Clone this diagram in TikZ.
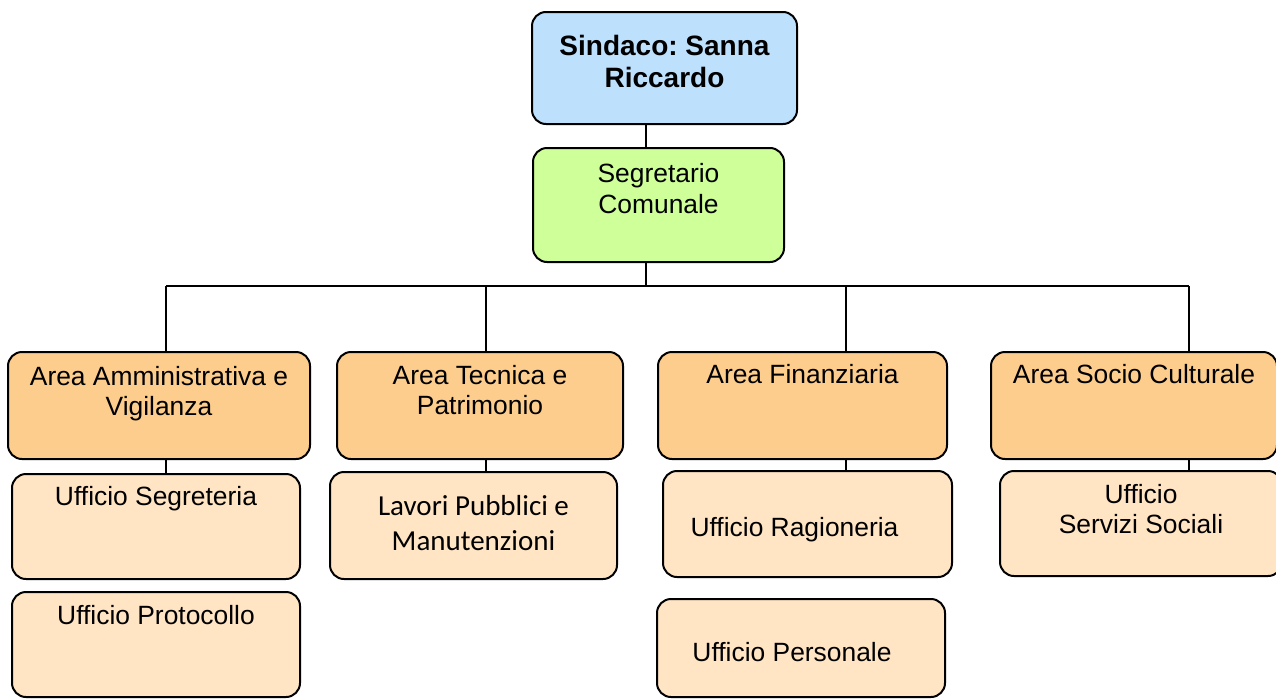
\documentclass[tikz,border=0pt]{standalone}
\usepackage{fontspec}
\setmainfont{Liberation Sans}
\newfontfamily\carlito{Carlito}
\usetikzlibrary{positioning}
\frenchspacing

\definecolor{sindblue}{RGB}{189,224,253}
\definecolor{segrgreen}{RGB}{206,255,153}
\definecolor{areaorange}{RGB}{252,205,140}
\definecolor{uffpeach}{RGB}{255,229,196}

\begin{document}
\begin{tikzpicture}[x=1pt,y=-1pt,line width=2pt,
        box/.style={draw,rounded corners=14pt,inner sep=0pt},
        sindbox/.style={box,fill=sindblue},
        segrbox/.style={box,fill=segrgreen},
        areabox/.style={box,fill=areaorange,minimum height=107pt},
        uffbox/.style={box,fill=uffpeach},
        lbl/.style={anchor=base,align=center,inner sep=0pt,
            font=\fontsize{26.4}{30.5}\selectfont}]

  \useasboundingbox (0,0) rectangle (1276,699);

  % vertici
  \node[sindbox,minimum width=265pt,minimum height=112pt] (sind) at (664.5,68) {};
  \node[segrbox,minimum width=251pt,minimum height=114pt] (segr) at (658.5,205) {};

  % aree
  \node[areabox,minimum width=302pt] (amm) at (159,405.5) {};
  \node[areabox,minimum width=286pt] (tec) at (480,405.5) {};
  \node[areabox,minimum width=289pt] (fin) at (802.5,405.5) {};
  \node[areabox,minimum width=286pt] (soc) at (1134,405.5) {};

  % uffici
  \node[uffbox,minimum width=288pt,minimum height=105pt] (uffseg) at (156,526.5) {};
  \node[uffbox,minimum width=288pt,minimum height=105pt] (uffprot) at (156,644.5) {};
  \node[uffbox,minimum width=287pt,minimum height=107pt] (lavori) at (473.5,525.5) {};
  \node[uffbox,minimum width=289pt,minimum height=106pt] (ragion) at (807.5,524) {};
  \node[uffbox,minimum width=288pt,minimum height=98pt] (pers) at (801,648) {};
  \node[uffbox,minimum width=282pt,minimum height=105pt] (servsoc) at (1141,523.5) {};

  % testi (base = ultima riga)
  \node[lbl,font=\fontsize{28}{32}\selectfont\bfseries] (sindT)
    at ([yshift=-76pt]sind.north) {Sindaco: Sanna\\Riccardo};
  \node[lbl] (segrT) at ([yshift=-66pt]segr.north) {Segretario\\Comunale};
  \node[lbl] (ammT) at ([yshift=-64.5pt]amm.north) {Area Amministrativa e\\Vigilanza};
  \node[lbl] (tecT) at ([yshift=-63.5pt]tec.north) {Area Tecnica e\\Patrimonio};
  \node[lbl] (finT) at ([yshift=-32pt]fin.north) {Area Finanziaria};
  \node[lbl] (socT) at ([yshift=-32pt]soc.north) {Area Socio Culturale};
  \node[lbl] (uffsegT) at ([yshift=-32pt]uffseg.north) {Ufficio Segreteria};
  \node[lbl] (uffprotT) at ([yshift=-33pt]uffprot.north) {Ufficio Protocollo};
  \node[lbl,font=\carlito\fontsize{29}{35}\selectfont] (lavoriT)
    at ([yshift=-79pt]lavori.north) {Lavori Pubblici e\\Manutenzioni};
  \node[lbl] (ragionT) at ([xshift=-13pt,yshift=-66pt]ragion.north) {Ufficio Ragioneria};
  \node[lbl] (persT) at ([xshift=-9pt,yshift=-63pt]pers.north) {Ufficio Personale};
  \node[lbl] (servsocT) at ([yshift=-63.5pt]servsoc.north) {Ufficio\\Servizi Sociali};

  % collegamenti
  \coordinate (bus) at (646,286);
  \coordinate (d1) at (166,286);
  \coordinate (d2) at (486,286);
  \coordinate (d3) at (846,286);
  \coordinate (d4) at (1189,286);

  \draw (sind.south -| bus) -- (segr.north -| bus);
  \draw (segr.south -| bus) -- (bus);
  \draw (d1) -- (d4);
  \foreach \d/\a/\u in {d1/amm/uffseg,d2/tec/lavori,d3/fin/ragion,d4/soc/servsoc} {
    \draw (\d) -- (\a.north -| \d);
    \draw (\a.south -| \d) -- (\u.north -| \d);
  }

\end{tikzpicture}
\end{document}
